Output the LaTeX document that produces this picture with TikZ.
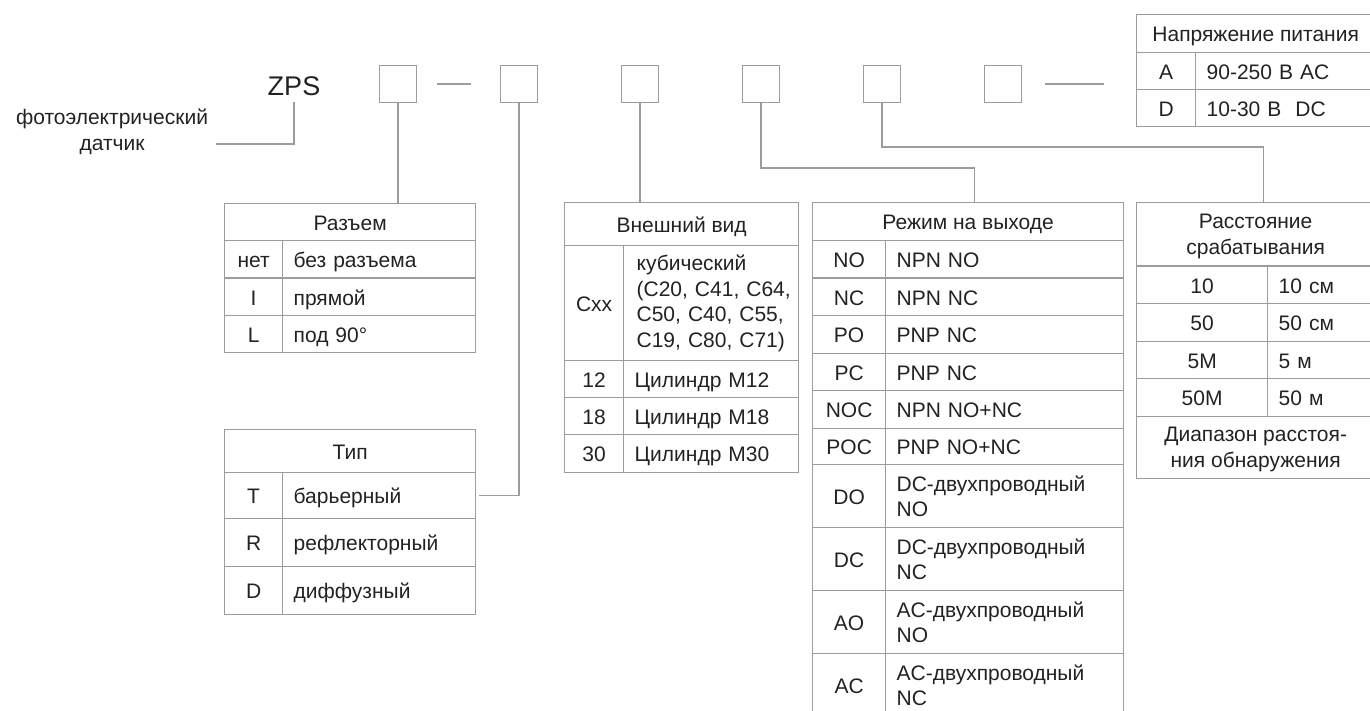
\documentclass[tikz,border=0pt]{standalone}
\usepackage{tikz}
\usepackage{fontspec}
\setmainfont{Liberation Sans}
\definecolor{linegray}{HTML}{9C9C9C}
\definecolor{textdark}{HTML}{222222}
\newcommand{\tabfont}{\fontsize{21}{25.5}\selectfont}
\tikzset{
  conn/.style={draw=linegray, line width=1.3pt},
  codebox/.style={draw=linegray, line width=1.3pt, minimum width=37pt, minimum height=37pt, inner sep=0pt},
  mcell/.style={draw=linegray, line width=1.3pt, anchor=north west, inner sep=0pt, text=textdark, font=\tabfont, align=center},
  cell/.style={mcell, text height=18.5pt, text depth=2pt},
  mlcell/.style={mcell, align=left, inner xsep=11pt},
  lcell/.style={cell, align=left, inner xsep=11pt},
}
\begin{document}
\begin{tikzpicture}[x=1pt,y=-1pt]
\useasboundingbox (0,0) rectangle (1370,711);
% code line
\node[font=\fontsize{27}{30}\selectfont, text=textdark, inner sep=0pt, minimum height=32pt] (zps) at (294,86) {ZPS};
\node[font=\tabfont, text=textdark, align=center, inner sep=0pt] (sensor) at (112,132) {фотоэлектрический\\датчик};
\coordinate (senend) at (216,144);
\node[codebox] (c1) at (398,84) {};
\node[codebox] (c2) at (519,84) {};
\node[codebox] (c3) at (640,84) {};
\node[codebox] (c4) at (761,84) {};
\node[codebox] (c5) at (882,84) {};
\node[codebox] (c6) at (1003,84) {};
\draw[conn] ([xshift=20pt]c1.east) -- ([xshift=-29pt]c2.west);
\draw[conn] ([xshift=23pt]c6.east) -- ([xshift=82pt]c6.east);

% Разъем
\node[cell, minimum width=251pt, minimum height=37pt] (raz) at (224,203) {Разъем};
\node[cell, minimum width=58pt, minimum height=37.5pt] (razK1) at (224,240) {нет};
\node[lcell, text width=171pt, minimum height=37.5pt] (razV1) at (282,240) {без разъема};
\node[cell, minimum width=58pt, minimum height=37.5pt] (razK2) at (224,277.5) {I};
\node[lcell, text width=171pt, minimum height=37.5pt] (razV2) at (282,277.5) {прямой};
\node[cell, minimum width=58pt, minimum height=37pt] (razK3) at (224,315) {L};
\node[lcell, text width=171pt, minimum height=37pt] (razV3) at (282,315) {под 90°};

% Тип
\node[cell, minimum width=251pt, minimum height=43pt] (tip) at (224,429) {Тип};
\node[cell, minimum width=58pt, minimum height=46pt] (tipK1) at (224,472) {T};
\node[lcell, text width=171pt, minimum height=46pt] (tipV1) at (282,472) {барьерный};
\node[cell, minimum width=58pt, minimum height=48pt] (tipK2) at (224,518) {R};
\node[lcell, text width=171pt, minimum height=48pt] (tipV2) at (282,518) {рефлекторный};
\node[cell, minimum width=58pt, minimum height=48pt] (tipK3) at (224,566) {D};
\node[lcell, text width=171pt, minimum height=48pt] (tipV3) at (282,566) {диффузный};

% Внешний вид
\node[cell, minimum width=234pt, minimum height=43pt] (vid) at (564,202) {Внешний вид};
\node[cell, minimum width=59pt, minimum height=115pt] (vidK1) at (564,245) {Cxx};
\node[mlcell, inner xsep=13pt, text width=149pt, minimum height=115pt] (vidV1) at (623,245) {\mbox{кубический}\\\mbox{(C20, C41, C64,}\\\mbox{C50, C40, C55,}\\\mbox{C19, C80, C71)}};
\node[cell, minimum width=59pt, minimum height=37pt] (vidK2) at (564,360) {12};
\node[lcell, text width=153pt, minimum height=37pt] (vidV2) at (623,360) {Цилиндр M12};
\node[cell, minimum width=59pt, minimum height=37pt] (vidK3) at (564,397) {18};
\node[lcell, text width=153pt, minimum height=37pt] (vidV3) at (623,397) {Цилиндр M18};
\node[cell, minimum width=59pt, minimum height=38pt] (vidK4) at (564,434) {30};
\node[lcell, text width=153pt, minimum height=38pt] (vidV4) at (623,434) {Цилиндр M30};

% Режим на выходе
\node[cell, minimum width=311pt, minimum height=38pt] (rezh) at (812,202) {Режим на выходе};
\node[cell, minimum width=73pt, minimum height=37.5pt] (rezhK1) at (812,240) {NO};
\node[lcell, text width=216pt, minimum height=37.5pt] (rezhV1) at (885,240) {NPN NO};
\node[cell, minimum width=73pt, minimum height=37.5pt] (rezhK2) at (812,277.5) {NC};
\node[lcell, text width=216pt, minimum height=37.5pt] (rezhV2) at (885,277.5) {NPN NC};
\node[cell, minimum width=73pt, minimum height=37.5pt] (rezhK3) at (812,315) {PO};
\node[lcell, text width=216pt, minimum height=37.5pt] (rezhV3) at (885,315) {PNP NC};
\node[cell, minimum width=73pt, minimum height=37.5pt] (rezhK4) at (812,352.5) {PC};
\node[lcell, text width=216pt, minimum height=37.5pt] (rezhV4) at (885,352.5) {PNP NC};
\node[cell, minimum width=73pt, minimum height=37.5pt] (rezhK5) at (812,390) {NOC};
\node[lcell, text width=216pt, minimum height=37.5pt] (rezhV5) at (885,390) {NPN NO+NC};
\node[cell, minimum width=73pt, minimum height=36.5pt] (rezhK6) at (812,427.5) {POC};
\node[lcell, text width=216pt, minimum height=36.5pt] (rezhV6) at (885,427.5) {PNP NO+NC};
\node[cell, minimum width=73pt, minimum height=63pt] (rezhK7) at (812,464) {DO};
\node[mlcell, text width=216pt, minimum height=63pt] (rezhV7) at (885,464) {DC-двухпроводный\\NO};
\node[cell, minimum width=73pt, minimum height=63pt] (rezhK8) at (812,527) {DC};
\node[mlcell, text width=216pt, minimum height=63pt] (rezhV8) at (885,527) {DC-двухпроводный\\NC};
\node[cell, minimum width=73pt, minimum height=63pt] (rezhK9) at (812,590) {AO};
\node[mlcell, text width=216pt, minimum height=63pt] (rezhV9) at (885,590) {AC-двухпроводный\\NO};
\node[cell, minimum width=73pt, minimum height=63pt] (rezhK10) at (812,653) {AC};
\node[mlcell, text width=216pt, minimum height=63pt] (rezhV10) at (885,653) {AC-двухпроводный\\NC};

% Расстояние срабатывания
\node[mcell, minimum width=238pt, minimum height=63.5pt, text depth=-2pt] (rast) at (1136,202) {Расстояние\\срабатывания};
\node[cell, minimum width=131pt, minimum height=37.5pt] (rastK1) at (1136,265.5) {10};
\node[lcell, text width=85pt, minimum height=37.5pt] (rastV1) at (1267,265.5) {10 см};
\node[cell, minimum width=131pt, minimum height=37.5pt] (rastK2) at (1136,303) {50};
\node[lcell, text width=85pt, minimum height=37.5pt] (rastV2) at (1267,303) {50 см};
\node[cell, minimum width=131pt, minimum height=37.5pt] (rastK3) at (1136,340.5) {5M};
\node[lcell, text width=85pt, minimum height=37.5pt] (rastV3) at (1267,340.5) {5 м};
\node[cell, minimum width=131pt, minimum height=37.5pt] (rastK4) at (1136,378) {50M};
\node[lcell, text width=85pt, minimum height=37.5pt] (rastV4) at (1267,378) {50 м};
\node[mcell, minimum width=238pt, minimum height=62pt, text depth=-2pt] (rastF) at (1136,415.5) {Диапазон расстоя-\\ния обнаружения};

% Напряжение питания
\node[cell, minimum width=238pt, minimum height=38pt] (pit) at (1136,14) {Напряжение питания};
\node[cell, minimum width=59pt, minimum height=37pt] (pitK1) at (1136,52) {A};
\node[lcell, text width=157pt, minimum height=37pt] (pitV1) at (1195,52) {90-250 В AC};
\node[cell, minimum width=59pt, minimum height=37pt] (pitK2) at (1136,89) {D};
\node[lcell, text width=157pt, minimum height=37pt] (pitV2) at (1195,89) {10-30 В~ DC};

% connectors
\draw[conn] (zps.south) |- (senend);
\draw[conn] (c1.south) -- (c1.south |- raz.north);
\draw[conn] (c2.south) |- ([xshift=3pt]tipV1.east);
\draw[conn] (c3.south) -- (c3.south |- vid.north);
\draw[conn] (c4.south) -- ++(0,65) -| ([xshift=6.5pt]rezh.north);
\draw[conn] (c5.south) -- ++(0,44) -| ([xshift=8pt]rast.north);
\end{tikzpicture}
\end{document}
